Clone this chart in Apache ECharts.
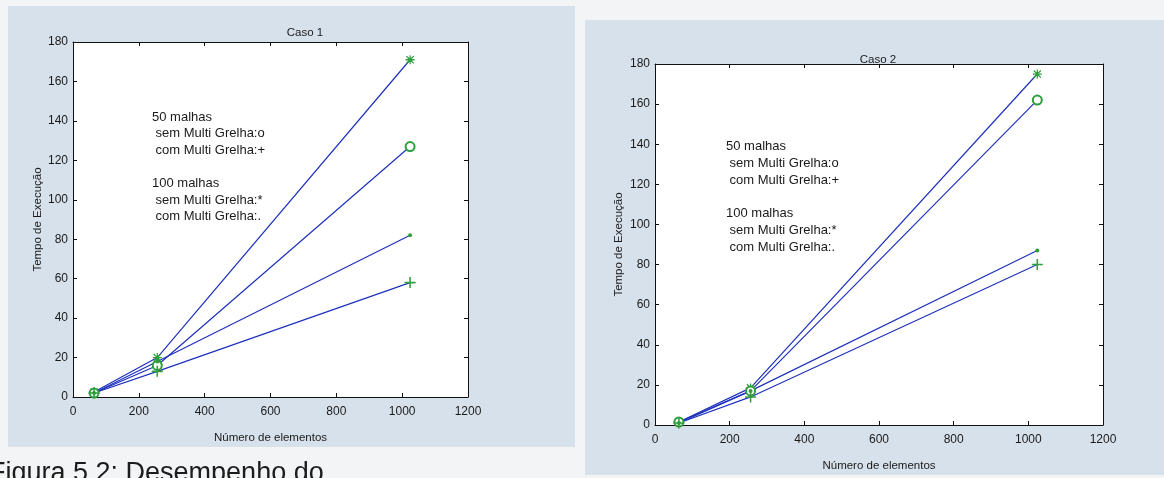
<!DOCTYPE html>
<html>
<head>
<meta charset="utf-8">
<script src="https://cdn.jsdelivr.net/npm/echarts@6/dist/echarts.min.js"></script>
<style>
  html, body { margin: 0; padding: 0; background: #f3f4f6; }
  #chart { width: 1164px; height: 478px; }
</style>
</head>
<body>
<div id="chart"></div>
<script>
// Número de elementos (malhas 8x8, 16x16, 32x32)
const elementos = [64, 256, 1024];

// Caso 1 — tempos de execução
const caso1_50_sem = [2, 16, 127];    // o
const caso1_50_com = [2, 13, 58];     // +
const caso1_100_sem = [2.5, 20, 171]; // *
const caso1_100_com = [2, 18, 82];    // .

// Caso 2 — tempos de execução
const caso2_50_sem = [1.5, 17, 162];
const caso2_50_com = [1, 14, 80];
const caso2_100_sem = [1.5, 18.5, 175];
const caso2_100_com = [1, 17, 87];

const titulos = ['Caso 1', 'Caso 2'];
const legendaTexto = '50 malhas\n sem Multi Grelha:o\n com Multi Grelha:+\n\n100 malhas\n sem Multi Grelha:*\n com Multi Grelha:.';

const FONT = '"Liberation Sans", Arial, sans-serif';
const LINE = '#1f32bd';
const MARK = '#2f9e3c';

// marker shapes in the MATLAB style
const SYM_PLUS = 'path://M4.3,0H5.7V4.3H10V5.7H5.7V10H4.3V5.7H0V4.3H4.3Z';
const SYM_STAR = 'path://M4.3,0H5.7V4.3H10V5.7H5.7V10H4.3V5.7H0V4.3H4.3Z' +
  'M1.5,0.5L5,4L8.5,0.5L9.5,1.5L6,5L9.5,8.5L8.5,9.5L5,6L1.5,9.5L0.5,8.5L4,5L0.5,1.5Z';

function pts(ys) { return elementos.map((x, i) => [x, ys[i]]); }

function serie(idx, ys, symbol, size, name) {
  return {
    name: name,
    type: 'line',
    xAxisIndex: idx * 2,
    yAxisIndex: idx * 2,
    data: pts(ys),
    symbol: symbol,
    symbolSize: size,
    showAllSymbol: true,
    lineStyle: { color: LINE, width: 1.2 },
    itemStyle: { color: MARK, borderColor: MARK, borderWidth: symbol === 'emptyCircle' ? 1.3 : 0 },
    animation: false,
    z: 3
  };
}

const grids = [
  { left: 73, top: 42, width: 395, height: 355 },
  { left: 655, top: 64, width: 448, height: 361 }
];

const xAxes = [], yAxes = [];
grids.forEach((g, i) => {
  const label = { color: '#1a1a1a', fontFamily: FONT, fontSize: 12 };
  xAxes.push({
    type: 'value', gridIndex: i, min: 0, max: 1200, interval: 200,
    position: 'bottom',
    name: 'Número de elementos', nameLocation: 'middle', nameGap: 35,
    nameTextStyle: { color: '#1a1a1a', fontFamily: FONT, fontSize: 11.5 },
    axisLine: { show: true, onZero: false, lineStyle: { color: '#111', width: 1 } },
    axisTick: { show: true, inside: true, length: 4, lineStyle: { color: '#111' } },
    axisLabel: Object.assign({ margin: 9, formatter: v => String(v) }, label),
    splitLine: { show: false }
  });
  xAxes.push({
    type: 'value', gridIndex: i, min: 0, max: 1200, interval: 200,
    position: 'top',
    axisLine: { show: true, onZero: false, lineStyle: { color: '#111', width: 1 } },
    axisTick: { show: true, inside: true, length: 4, lineStyle: { color: '#111' } },
    axisLabel: { show: false },
    splitLine: { show: false }
  });
  yAxes.push({
    type: 'value', gridIndex: i, min: 0, max: 180, interval: 20,
    position: 'left',
    name: 'Tempo de Execução', nameLocation: 'middle', nameGap: i === 0 ? 23 : 30,
    nameTextStyle: { color: '#1a1a1a', fontFamily: FONT, fontSize: 11.5 },
    axisLine: { show: true, onZero: false, lineStyle: { color: '#111', width: 1 } },
    axisTick: { show: true, inside: true, length: 4, lineStyle: { color: '#111' } },
    axisLabel: Object.assign({ margin: 5, formatter: v => String(v) }, label),
    splitLine: { show: false }
  });
  yAxes.push({
    type: 'value', gridIndex: i, min: 0, max: 180, interval: 20,
    position: 'right',
    axisLine: { show: true, onZero: false, lineStyle: { color: '#111', width: 1 } },
    axisTick: { show: true, inside: true, length: 4, lineStyle: { color: '#111' } },
    axisLabel: { show: false },
    splitLine: { show: false }
  });
});

const option = {
  backgroundColor: '#f3f4f6',
  animation: false,
  title: [
    { text: titulos[0], left: 300, top: 22, textAlign: 'center',
      textStyle: { color: '#1a1a1a', fontFamily: FONT, fontSize: 11.5, fontWeight: 'normal' } },
    { text: titulos[1], left: 873, top: 49, textAlign: 'center',
      textStyle: { color: '#1a1a1a', fontFamily: FONT, fontSize: 11.5, fontWeight: 'normal' } }
  ],
  graphic: [
    // figure panels
    { type: 'rect', z: -10, silent: true, shape: { x: 8, y: 6, width: 567, height: 441 },
      style: { fill: '#d7e1ec' } },
    { type: 'rect', z: -10, silent: true, shape: { x: 585, y: 20, width: 579, height: 455 },
      style: { fill: '#d7e1ec' } },
    // plot areas
    { type: 'rect', z: -5, silent: true, shape: { x: 73, y: 42, width: 395, height: 355 },
      style: { fill: '#ffffff' } },
    { type: 'rect', z: -5, silent: true, shape: { x: 655, y: 64, width: 448, height: 361 },
      style: { fill: '#ffffff' } },
    // annotation blocks
    { type: 'text', left: 152, top: 109, z: 5, silent: true,
      style: { text: legendaTexto, fill: '#1a1a1a', font: '13px ' + FONT, lineHeight: 16.6 } },
    { type: 'text', left: 726, top: 138, z: 5, silent: true,
      style: { text: legendaTexto, fill: '#1a1a1a', font: '13px ' + FONT, lineHeight: 16.8 } },
    // caption below the left figure
    { type: 'text', left: -11, top: 460, z: 5, silent: true,
      style: { text: 'Figura 5.2: Desempenho do', fill: '#1c1c1c', font: '27px ' + FONT } }
  ],
  grid: grids,
  xAxis: xAxes,
  yAxis: yAxes,
  series: [
    serie(0, caso1_100_sem, SYM_STAR, 9, '100 sem'),
    serie(0, caso1_50_sem, 'emptyCircle', 9, '50 sem'),
    serie(0, caso1_100_com, 'circle', 4, '100 com'),
    serie(0, caso1_50_com, SYM_PLUS, 11, '50 com'),
    serie(1, caso2_100_sem, SYM_STAR, 9, '100 sem'),
    serie(1, caso2_50_sem, 'emptyCircle', 9, '50 sem'),
    serie(1, caso2_100_com, 'circle', 4, '100 com'),
    serie(1, caso2_50_com, SYM_PLUS, 11, '50 com')
  ]
};

const chart = echarts.init(document.getElementById('chart'), null, { renderer: 'canvas' });
chart.setOption(option);
</script>
</body>
</html>
